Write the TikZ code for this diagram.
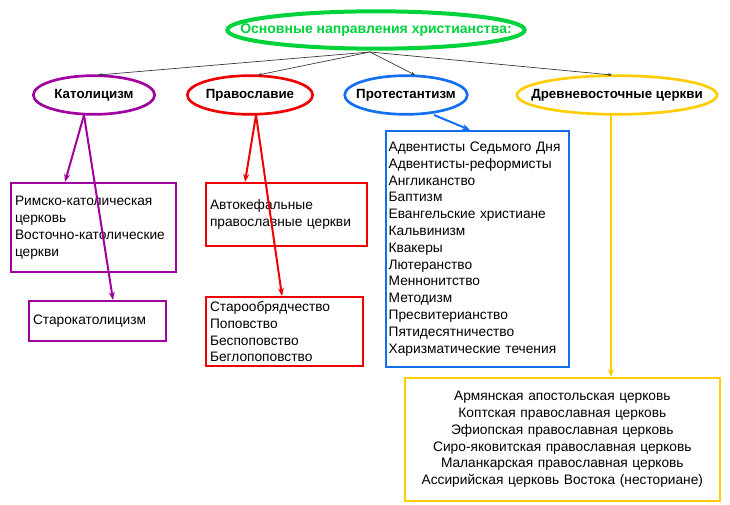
\documentclass[tikz,border=0pt]{standalone}
\usepackage{fontspec}
\setmainfont{Liberation Sans}
\usetikzlibrary{shapes.geometric, arrows.meta}
\definecolor{kgreen}{RGB}{0,210,60}
\definecolor{kpurple}{RGB}{160,0,160}
\definecolor{kred}{RGB}{240,0,0}
\definecolor{kblue}{RGB}{20,110,240}
\definecolor{kyellow}{RGB}{255,205,0}
\newcommand{\zw}[1]{\makebox[0pt]{#1}}
\tikzset{
  branch/.style={ellipse, draw=#1, line width=2pt, minimum height=29pt, inner sep=0pt,
    font=\fontsize{10}{12}\selectfont\bfseries},
  listbox/.style={draw=#1, line width=1.5pt, anchor=north west, inner sep=3pt,
    align=left, font=\fontsize{10.3}{12.6}\selectfont},
  link/.style={draw=#1, line width=1.5pt, -{Stealth[length=6pt]}},
  thin link/.style={draw=black!80, line width=0.5pt, -{Stealth[length=3pt]}}
}
\begin{document}
\begin{tikzpicture}[x=0.75pt, y=-0.75pt]
  \useasboundingbox (0,0) rectangle (730,505);
  % Top
  \node[branch=kgreen, line width=3pt, minimum width=223pt, minimum height=28pt, text=kgreen,
    font=\fontsize{10.5}{12}\selectfont\bfseries] (main) at (376,30)
    {\zw{Основные направления христианства:}};
  % Branches
  \node[branch=kpurple, minimum width=91pt] (kat) at (94,95) {\zw{Католицизм}};
  \node[branch=kred, minimum width=94pt] (prav) at (250,95) {\zw{Православие}};
  \node[branch=kblue, minimum width=92pt] (prot) at (406,95) {\zw{Протестантизм}};
  \node[branch=kyellow, minimum width=150pt] (drev) at (617,95) {\zw{Древневосточные церкви}};
  \coordinate (mainb) at (370,52);
  \draw[thin link] (mainb) -- (98,75);
  \draw[thin link] (mainb) -- (258,75);
  \draw[thin link] (mainb) -- (415,75);
  \draw[thin link] (mainb) -- (612,75);

  % Catholic
  \node[listbox=kpurple, text width=118pt, minimum height=67pt] (kat1) at (10,182)
    {Римско-католическая\\ церковь\\Восточно-католические\\церкви};
  \node[listbox=kpurple, text width=97pt, minimum height=30pt] (kat2) at (28,300)
    {Старокатолицизм};
  \draw[link=kpurple] (84,115) -- (kat1.north -| 65,0);
  \draw[link=kpurple] (84,115) -- (kat2.north -| 113,0);

  % Orthodox
  \node[listbox=kred, text width=115pt, minimum height=47pt] (prav1) at (205,182)
    {Автокефальные\\православные церкви};
  \node[listbox=kred, text width=112pt, minimum height=52pt] (prav2) at (205,296)
    {Старообрядчество\\Поповство\\Беспоповство\\Беглопоповство};
  \draw[link=kred] (256,115) -- (prav1.north -| 245,0);
  \draw[link=kred] (256,115) -- (prav2.north -| 282,0);

  % Protestant
  \node[listbox=kblue, inner sep=2pt, text width=133pt, minimum height=177pt] (prot1) at (385,130)
    {Адвентисты Седьмого Дня\\Адвентисты-реформисты\\Англиканство\\Баптизм\\Евангельские христиане\\
     Кальвинизм\\Квакеры\\Лютеранство\\Меннонитство\\Методизм\\Пресвитерианство\\
     Пятидесятничество\\Харизматические течения};
  \draw[link=kblue] (434,115) -- (prot1.north -| 470,0);

  % Ancient eastern
  \node[listbox=kyellow, align=center, text width=230pt, minimum height=92pt] (drev1) at (404,377)
    {Армянская апостольская церковь\\Коптская православная церковь\\Эфиопская православная церковь\\
     Сиро-яковитская православная церковь\\Маланкарская православная церковь\\
     Ассирийская церковь Востока (несториане)\\[10pt]};
  \draw[link=kyellow] (611,115) -- (drev1.north -| 611,0);
\end{tikzpicture}
\end{document}
